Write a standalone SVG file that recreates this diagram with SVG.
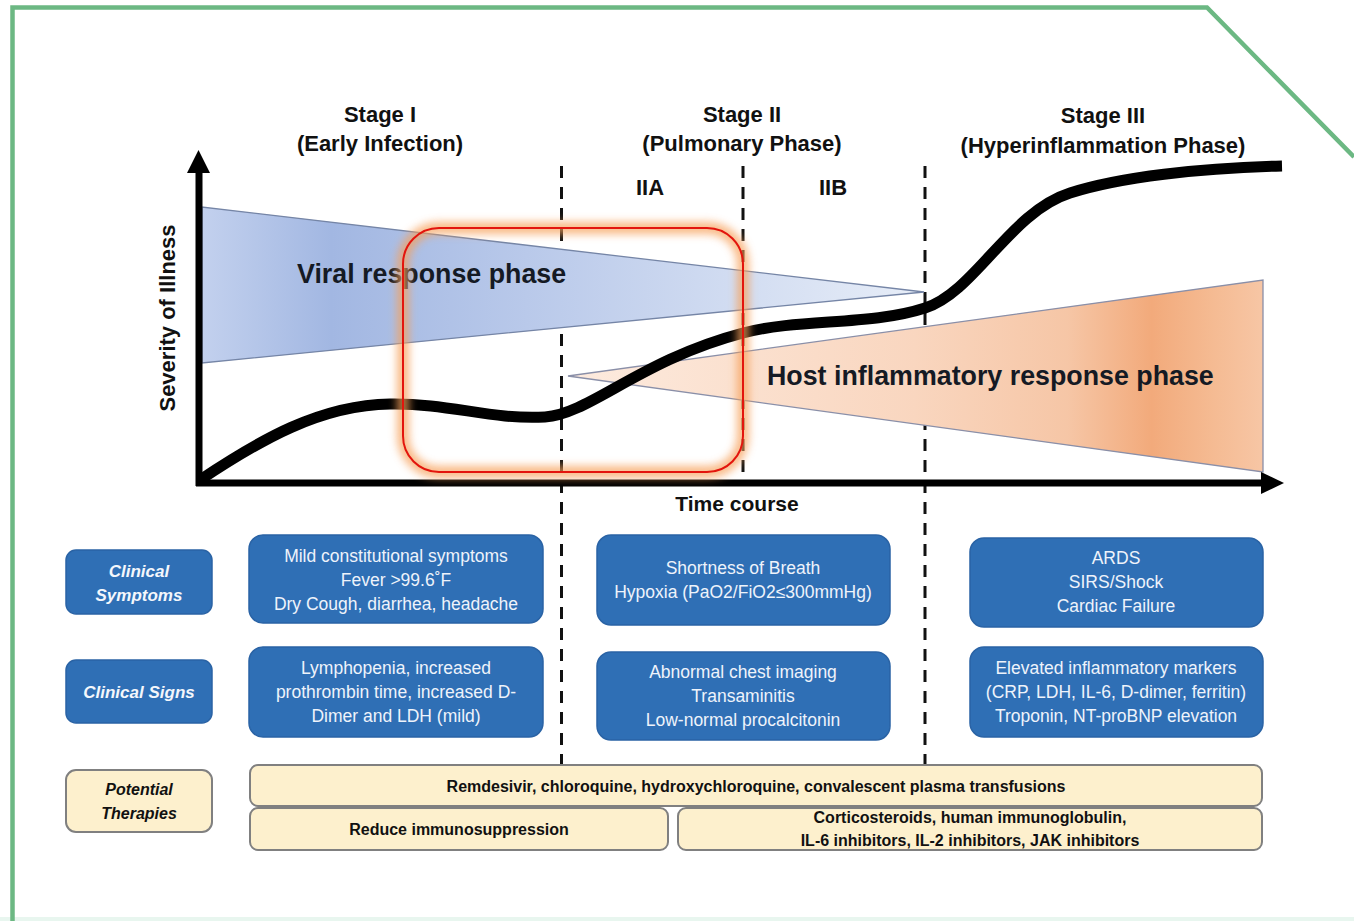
<svg xmlns="http://www.w3.org/2000/svg" width="1354" height="921" viewBox="0 0 1354 921">
<defs>
<style>
.t{font-family:"Liberation Sans",Arial,sans-serif;fill:#111;}
.hd{font-size:22px;font-weight:bold;text-anchor:middle;}
.ph{font-size:26.8px;font-weight:bold;fill:#151a24;}
.bx{fill:#2f6fb5;stroke:#2a63a5;stroke-width:1.5;}
.bt{font-family:"Liberation Sans",Arial,sans-serif;font-size:17.5px;fill:#eef3fb;text-anchor:middle;}
.lt{font-family:"Liberation Sans",Arial,sans-serif;font-size:17px;font-weight:bold;font-style:italic;fill:#f4f7fc;text-anchor:middle;}
.tb{fill:#fdf0cd;stroke:#808080;stroke-width:2;}
.tt{font-family:"Liberation Sans",Arial,sans-serif;font-size:16px;font-weight:bold;fill:#111;text-anchor:middle;}
.dash{stroke:#111;stroke-width:3;stroke-dasharray:12 9;fill:none;}
</style>
<linearGradient id="gBlue" gradientUnits="userSpaceOnUse" x1="201" y1="0" x2="925" y2="0">
<stop offset="0" stop-color="#c3d1ee"/>
<stop offset="0.18" stop-color="#a2b7e2"/>
<stop offset="0.45" stop-color="#b9c9ea"/>
<stop offset="1" stop-color="#e8eef8"/>
</linearGradient>
<linearGradient id="gOrange" gradientUnits="userSpaceOnUse" x1="566" y1="0" x2="1263" y2="0">
<stop offset="0" stop-color="#fdebdf"/>
<stop offset="0.5" stop-color="#f9d6bf"/>
<stop offset="0.72" stop-color="#f6c6a6"/>
<stop offset="0.84" stop-color="#f2aa7b"/>
<stop offset="0.93" stop-color="#f5bb93"/>
<stop offset="1" stop-color="#f7c6a5"/>
</linearGradient>
<filter id="glow" x="-20%" y="-20%" width="140%" height="140%">
<feGaussianBlur stdDeviation="4"/>
</filter>
</defs>
<rect x="0" y="0" width="1354" height="921" fill="#ffffff"/>
<rect x="0" y="917" width="1354" height="4" fill="#e8f6ef"/>
<g id="frame" fill="none" stroke="#6cb883" stroke-width="4.5">
<polyline points="12.5,921 12.5,7.5 1207,7.5 1354,157"/>
</g>

<g id="connectors">
<line class="dash" x1="561.5" y1="166" x2="561.5" y2="856"/>
<line class="dash" x1="743" y1="166" x2="743" y2="482"/>
<line class="dash" x1="925" y1="166" x2="925" y2="856"/>
</g>

<g id="phases">
<polygon points="202,207 202,363 924,292" fill="url(#gBlue)" stroke="#7585a6" stroke-width="1.3"/>
<polygon points="568,376 1263,280 1263,472" fill="url(#gOrange)" stroke="#8a8fa8" stroke-width="1.3"/>
<text class="t ph" x="297" y="283">Viral response phase</text>
<text class="t ph" x="767" y="385">Host inflammatory response phase</text>
</g>

<g id="curve-axes">
<path d="M200,480 C260,440 320,405 390,404 C450,403 490,420 545,417 C590,414 640,360 743,333 C800,318 870,326 925,308 C975,292 1010,212 1070,193 C1120,177 1200,168 1282,166" fill="none" stroke="#000" stroke-width="11"/>
<line x1="199" y1="486" x2="199" y2="168" stroke="#000" stroke-width="7"/>
<polygon points="198.5,150 187,173 210,173" fill="#000"/>
<line x1="196" y1="483" x2="1265" y2="483" stroke="#000" stroke-width="7"/>
<polygon points="1284,483 1261,472 1261,494" fill="#000"/>
</g>

<g id="axis-labels">
<text class="t" font-size="22" font-weight="bold" text-anchor="middle" transform="translate(175,318) rotate(-90)">Severity of Illness</text>
<text class="t" x="737" y="511" font-size="21" font-weight="bold" text-anchor="middle">Time course</text>
</g>

<g id="stage1-header">
<text class="t hd" x="380" y="122">Stage I</text>
<text class="t hd" x="380" y="151">(Early Infection)</text>
</g>
<g id="stage2-header">
<text class="t hd" x="742" y="122">Stage II</text>
<text class="t hd" x="742" y="151">(Pulmonary Phase)</text>
<text class="t hd" x="650" y="195" font-size="21">IIA</text>
<text class="t hd" x="833" y="195" font-size="21">IIB</text>
</g>
<g id="stage3-header">
<text class="t hd" x="1103" y="123">Stage III</text>
<text class="t hd" x="1103" y="153">(Hyperinflammation Phase)</text>
</g>

<g id="highlight">
<rect x="403" y="228" width="340" height="244" rx="36" fill="none" stroke="#f7a05a" stroke-width="12" opacity="0.75" filter="url(#glow)"/>
<rect x="403" y="228" width="340" height="244" rx="36" fill="none" stroke="#e3150d" stroke-width="2"/>
</g>

<g id="label-symptoms">
<rect class="bx" x="66" y="550" width="146" height="64" rx="10"/>
<text class="lt" x="139" y="577">Clinical</text>
<text class="lt" x="139" y="601">Symptoms</text>
</g>
<g id="label-signs">
<rect class="bx" x="66" y="660" width="146" height="63" rx="10"/>
<text class="lt" x="139" y="698">Clinical Signs</text>
</g>
<g id="label-therapies">
<rect class="tb" x="66" y="770" width="146" height="62" rx="10"/>
<text class="tt" x="139" y="795" font-style="italic">Potential</text>
<text class="tt" x="139" y="819" font-style="italic">Therapies</text>
</g>

<g id="s1-symptoms">
<rect class="bx" x="249" y="535" width="294" height="88" rx="14"/>
<text class="bt" x="396" y="562">Mild constitutional symptoms</text>
<text class="bt" x="396" y="586">Fever &gt;99.6˚F</text>
<text class="bt" x="396" y="610">Dry Cough, diarrhea, headache</text>
</g>
<g id="s1-signs">
<rect class="bx" x="249" y="647" width="294" height="90" rx="14"/>
<text class="bt" x="396" y="674">Lymphopenia, increased</text>
<text class="bt" x="396" y="698">prothrombin time, increased D-</text>
<text class="bt" x="396" y="722">Dimer and LDH (mild)</text>
</g>
<g id="s2-symptoms">
<rect class="bx" x="597" y="535" width="293" height="90" rx="14"/>
<text class="bt" x="743" y="574">Shortness of Breath</text>
<text class="bt" x="743" y="598">Hypoxia (PaO2/FiO2≤300mmHg)</text>
</g>
<g id="s2-signs">
<rect class="bx" x="597" y="652" width="293" height="88" rx="14"/>
<text class="bt" x="743" y="678">Abnormal chest imaging</text>
<text class="bt" x="743" y="702">Transaminitis</text>
<text class="bt" x="743" y="726">Low-normal procalcitonin</text>
</g>
<g id="s3-symptoms">
<rect class="bx" x="970" y="538" width="293" height="89" rx="14"/>
<text class="bt" x="1116" y="564">ARDS</text>
<text class="bt" x="1116" y="588">SIRS/Shock</text>
<text class="bt" x="1116" y="612">Cardiac Failure</text>
</g>
<g id="s3-signs">
<rect class="bx" x="970" y="647" width="293" height="90" rx="14"/>
<text class="bt" x="1116" y="674">Elevated inflammatory markers</text>
<text class="bt" x="1116" y="698">(CRP, LDH, IL-6, D-dimer, ferritin)</text>
<text class="bt" x="1116" y="722">Troponin, NT-proBNP elevation</text>
</g>

<g id="therapy-antiviral">
<rect class="tb" x="250" y="765" width="1012" height="41" rx="8"/>
<text class="tt" x="756" y="792">Remdesivir, chloroquine, hydroxychloroquine, convalescent plasma transfusions</text>
</g>
<g id="therapy-reduce">
<rect class="tb" x="250" y="808" width="418" height="42" rx="8"/>
<text class="tt" x="459" y="835">Reduce immunosuppression</text>
</g>
<g id="therapy-immuno">
<rect class="tb" x="678" y="808" width="584" height="42" rx="8"/>
<text class="tt" x="970" y="823">Corticosteroids, human immunoglobulin,</text>
<text class="tt" x="970" y="846">IL-6 inhibitors, IL-2 inhibitors, JAK inhibitors</text>
</g>
</svg>
